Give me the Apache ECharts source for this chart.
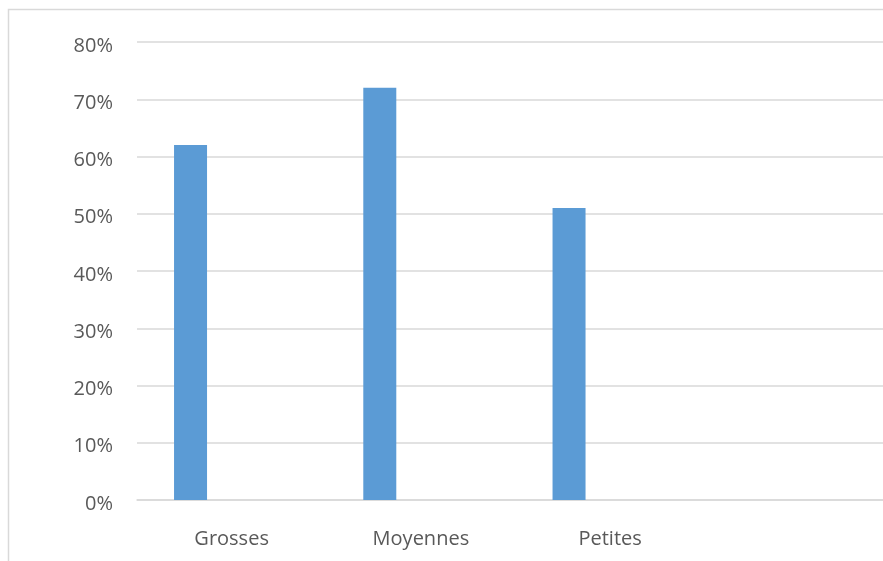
<!DOCTYPE html>
<html>
<head>
<meta charset="utf-8">
<script src="https://cdn.jsdelivr.net/npm/echarts@6/dist/echarts.min.js"></script>
<style>
  html, body { margin: 0; padding: 0; background: #ffffff; overflow: hidden; }
  #chart { width: 900px; height: 561px; }
</style>
</head>
<body>
<div id="chart"></div>
<script>
// Share of companies by size (percent)
var categories = ['Grosses', 'Moyennes', 'Petites', ''];
var shareValues = [0.62, 0.72, 0.51, null];
// Second, empty series of the clustered layout (no values)
var emptyValues = [null, null, null, null];
var yTicks = { min: 0, max: 0.8, interval: 0.1 };

var chart = echarts.init(document.getElementById('chart'), null, { renderer: 'canvas' });
var textStyle = { fontFamily: '"Open Sans", sans-serif', fontSize: 20, color: '#595959' };

chart.setOption({
  animation: false,
  backgroundColor: '#ffffff',
  graphic: [{
    type: 'rect',
    shape: { x: 8.5, y: 9.5, width: 1000, height: 1000 },
    style: { fill: 'none', stroke: '#d9d9d9', lineWidth: 1.5 },
    silent: true
  }],
  grid: { left: 137, top: 42, width: 757, height: 458, containLabel: false },
  xAxis: {
    type: 'category',
    data: categories,
    axisLine: { show: true, lineStyle: { color: '#d9d9d9', width: 1.5 } },
    axisTick: { show: false },
    axisLabel: Object.assign({ margin: 29, interval: 0 }, textStyle),
    splitLine: { show: false }
  },
  yAxis: {
    type: 'value',
    min: yTicks.min,
    max: yTicks.max,
    interval: yTicks.interval,
    axisLine: { show: false },
    axisTick: { show: false },
    axisLabel: Object.assign({
      margin: 24,
      verticalAlign: 'top',
      lineHeight: 8,
      formatter: function (v) { return Math.round(v * 100) + '%'; }
    }, textStyle),
    splitLine: { lineStyle: { color: '#d9d9d9', width: 1.5 } }
  },
  series: [{
    name: 'Part',
    type: 'bar',
    data: shareValues,
    barWidth: 33,
    barGap: '149%',
    itemStyle: { color: '#5b9bd5' }
  }, {
    name: 'Vide',
    type: 'bar',
    data: emptyValues,
    barWidth: 33,
    itemStyle: { color: '#ed7d31' }
  }]
});
</script>
</body>
</html>
